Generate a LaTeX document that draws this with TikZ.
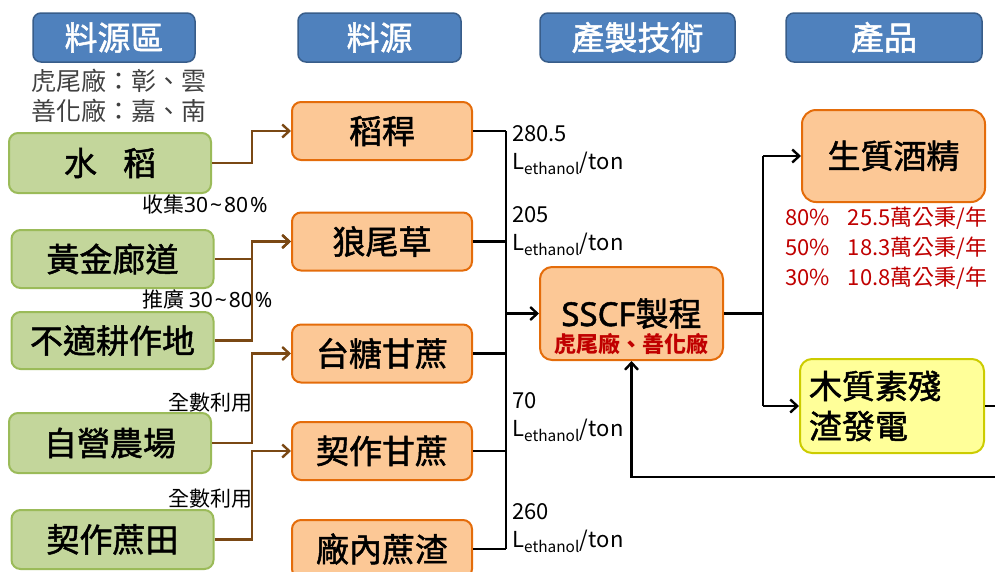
\documentclass[tikz,border=0pt]{standalone}
\usepackage{fontspec}
\setmainfont{Noto Sans CJK TC}
\newfontfamily\medfont{Noto Sans CJK TC}[FakeBold=1.5]
\newfontfamily\latfont{Noto Sans}
\newfontfamily\latmed{Noto Sans}[FakeBold=1.5]
\usepackage{tikz}
\usetikzlibrary{arrows.meta}

\definecolor{hdrblue}{RGB}{79,129,189}
\definecolor{hdredge}{RGB}{56,93,138}
\definecolor{srcgreen}{RGB}{195,214,155}
\definecolor{srcedge}{RGB}{155,187,89}
\definecolor{feedfill}{RGB}{252,200,150}
\definecolor{feededge}{RGB}{228,108,10}
\definecolor{powfill}{RGB}{255,255,153}
\definecolor{powedge}{RGB}{204,204,0}
\definecolor{brn}{RGB}{122,72,20}
\definecolor{redtxt}{RGB}{192,0,0}
\definecolor{notegray}{RGB}{64,64,64}

\newcommand\boxfont{\fontsize{33}{40}\selectfont\medfont}
\newcommand\lblfont{\fontsize{21}{28}\selectfont}
\newcommand\yldfont{\fontsize{22}{28}\selectfont}
\newcommand\notefont{\fontsize{25}{30}\selectfont}
\newcommand\pct[2]{{\latfont #1\kern2pt\textasciitilde\kern2pt#2\kern2pt\%}}

\tikzset{
  hdr/.style={draw=hdredge, line width=1.5pt, fill=hdrblue, rounded corners=8pt, text=white, minimum height=49pt, font=\boxfont, inner sep=0pt},
  src/.style={draw=srcedge, line width=2pt, fill=srcgreen, rounded corners=9pt, minimum width=202pt, font=\boxfont, inner sep=0pt},
  feed/.style={draw=feededge, line width=2pt, fill=feedfill, rounded corners=9pt, minimum width=180pt, minimum height=58pt, font=\boxfont, inner sep=0pt},
  pow/.style={draw=powedge, line width=2pt, fill=powfill, rounded corners=12pt, minimum width=184pt, minimum height=94pt, text width=166pt, align=left, font=\boxfont, inner sep=9pt},
  flow/.style={draw=brn, line width=2.4pt, -{Straight Barb[length=7pt,width=13pt]}},
  bus/.style={draw=black, line width=2.4pt},
  barrow/.style={bus, -{Straight Barb[length=7pt,width=13pt]}},
  lbl/.style={font=\lblfont, inner sep=0pt},
  yld/.style={font=\yldfont, inner sep=0pt, align=left, anchor=west},
}

\begin{document}
\begin{tikzpicture}[x=1pt,y=1pt,yscale=-1]
\useasboundingbox (0,0) rectangle (995,571);
\clip (0,0) rectangle (995,571);

% Header Nodes
\node [hdr, minimum width=162pt] (hzone) at (114,37.5) {料源區};
\node [hdr, minimum width=163pt] (hfeed) at (379.5,37.5) {料源};
\node [hdr, minimum width=195pt] (htech) at (637.5,37.5) {產製技術};
\node [hdr, minimum width=196pt] (hprod) at (884,37.5) {產品};

% Text Node
\node [font=\notefont, text=notegray, anchor=west, inner sep=0pt] (nhw) at (31,81) {虎尾廠：彰、雲};
% Text Node
\node [font=\notefont, text=notegray, anchor=west, inner sep=0pt] (nsh) at (31,111) {善化廠：嘉、南};

% Source Nodes
\node [src, minimum height=60pt] (rice) at (110,163) {水\hspace{26pt}稻};
\node [src, minimum height=58pt] (gold) at (112.5,259) {黃金廊道};
\node [src, minimum height=57pt] (idle) at (112.5,340.5) {不適耕作地};
\node [src, minimum height=60pt] (farm) at (110,443) {自營農場};
\node [src, minimum height=59pt] (cont) at (112.5,539.5) {契作蔗田};

% Feedstock Nodes
\node [feed] (straw) at (382,131) {稻稈};
\node [feed] (napier) at (382,241.5) {狼尾草};
\node [feed] (tsc) at (382,353.5) {台糖甘蔗};
\node [feed] (csc) at (382,451) {契作甘蔗};
\node [feed] (bag) at (382,549) {廠內蔗渣};

% Process and Products
\node [feed, minimum width=183pt, minimum height=93pt, rounded corners=12pt] (sscf) at (631.5,313.5) {{\latmed SSCF}製程};
\node [font=\fontsize{22}{22}\selectfont\bfseries, text=redtxt, inner sep=0pt] (site) at (631.5,344) {虎尾廠、善化廠};
\node [feed, minimum width=183pt, minimum height=92pt, rounded corners=14pt] (eth) at (893.5,156) {生質酒精};
\node [pow] (lig) at (892,406) {木質素殘\\渣發電};

% Text Node
\node [lbl, anchor=west] (lcol) at (142,204) {收集\pct{30}{80}};
% Text Node
\node [lbl, anchor=west] (lpro) at (142,299.5) {推廣 \pct{30}{80}};
% Text Node
\node [lbl, anchor=east] (luse) at (253,402.5) {全數利用};
% Text Node
\node [lbl, anchor=east] (lcon) at (253,498.5) {全數利用};

% Yield Nodes
\node [yld] (ystraw) at (512,150) {280.5\\L\textsubscript{ethanol}/ton};
\node [yld] (ynap) at (512,231) {205\\L\textsubscript{ethanol}/ton};
\node [yld] (ycsc) at (512,417) {70\\L\textsubscript{ethanol}/ton};
\node [yld] (ybag) at (512,528.5) {260\\L\textsubscript{ethanol}/ton};
\node [yld, font=\fontsize{22}{30}\selectfont, text=redtxt] (yeth) at (785,248) {80\%\hspace{18pt}25.5萬公秉/年\\50\%\hspace{18pt}18.3萬公秉/年\\30\%\hspace{18pt}10.8萬公秉/年};

% Joints
\coordinate (jl) at (252,0);
\coordinate (bus) at (506,0);
\coordinate (jr) at (763,0);
\coordinate (loopr) at (1010,477);

%Source to feedstock
\draw [flow] (rice.east) -- (rice.east -| jl) |- (straw.west);
\draw [flow] (gold.east) -- (gold.east -| jl) |- (napier.west);
\draw [flow] (idle.east) -- (idle.east -| jl) |- (napier.west);
\draw [flow] (farm.east) -- (farm.east -| jl) |- (tsc.west);
\draw [flow] (cont.east) -- (cont.east -| jl) |- (csc.west);

%Feedstock to process
\draw [bus] (straw.east) -- (straw.east -| bus);
\draw [bus] (napier.east) -- (napier.east -| bus);
\draw [bus] (tsc.east) -- (tsc.east -| bus);
\draw [bus] (csc.east) -- (csc.east -| bus);
\draw [bus] (bag.east) -- (bag.east -| bus);
\draw [bus] (straw.east -| bus) -- (bag.east -| bus);
\draw [barrow] (sscf.west -| bus) -- (sscf.west);

%Process to products
\draw [bus] (sscf.east) -- (sscf.east -| jr);
\draw [bus] (eth.west -| jr) -- (lig.west -| jr);
\draw [barrow] (eth.west -| jr) -- (eth.west);
\draw [barrow] (lig.west -| jr) -- (lig.west);
\draw [barrow] (lig.east) -| (loopr) -| (sscf.south);

\end{tikzpicture}
\end{document}
